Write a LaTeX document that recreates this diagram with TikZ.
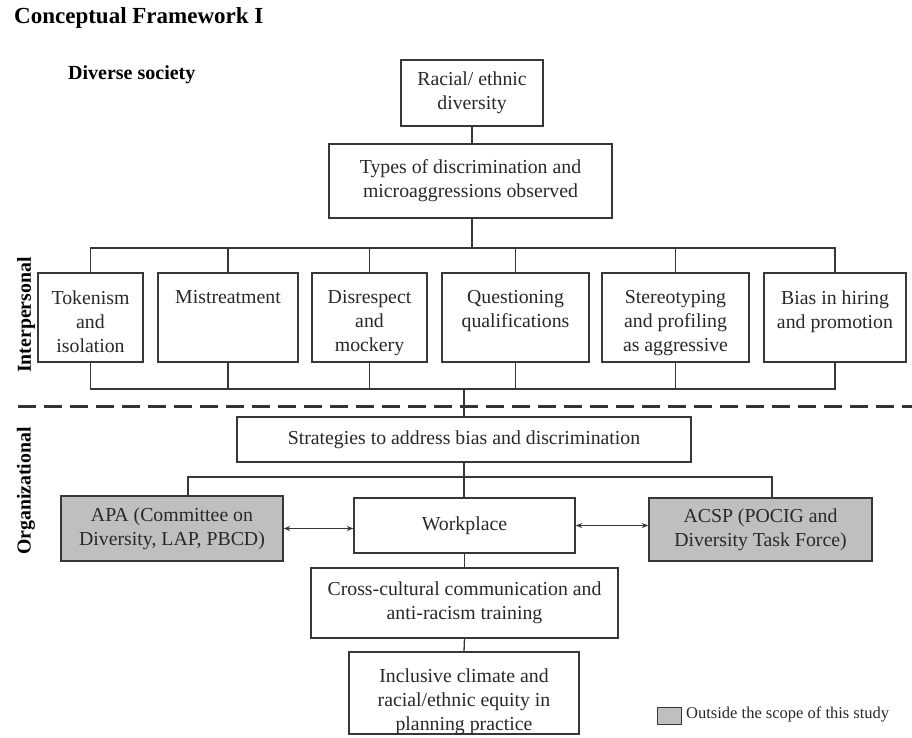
\documentclass[tikz,border=0pt]{standalone}
\usepackage{fontspec}
\setmainfont{Liberation Serif}
\usetikzlibrary{arrows.meta}
\definecolor{outgray}{RGB}{191,191,191}
\definecolor{linegray}{RGB}{55,55,55}
\definecolor{txt}{RGB}{40,40,40}
\tikzset{
  box/.style={draw=linegray, line width=1.3pt, inner sep=0pt, align=center,
    font=\fontsize{19.8}{24}\selectfont, text=txt},
  grbox/.style={box, fill=outgray},
  txtnode/.style={inner sep=0pt, align=center, font=\fontsize{19.8}{24}\selectfont, text=txt},
  conn/.style={draw=linegray, line width=1.3pt},
  biarrow/.style={conn, {Stealth[length=6.5pt,width=5pt]}-{Stealth[length=6.5pt,width=5pt]}},
  lvl/.style={font=\bfseries\fontsize{19.8}{24}\selectfont, inner sep=0pt, rotate=90},
  divider/.style={draw=black!80, line width=3pt, dash pattern=on 18pt off 8pt},
}
\begin{document}
\begin{tikzpicture}[x=1pt,y=-1pt]
\path[use as bounding box] (0,0) rectangle (912,738);

% headings
\node[anchor=base west, font=\bfseries\fontsize{23}{26}\selectfont, inner sep=0pt] (title) at (14,24) {Conceptual Framework I};
\node[anchor=base west, font=\bfseries\fontsize{20}{24}\selectfont, inner sep=0pt] (society) at (68,80) {Diverse society};
\node[lvl] (inter) at (26,315) {Interpersonal};
\node[lvl] (orga) at (26,491) {Organizational};

% top boxes
\node[box, minimum width=142pt, minimum height=66pt] (racial) at (472,93) {Racial/ ethnic\\diversity};
\node[box, minimum width=283pt, minimum height=74pt] (types) at (470.5,181) {Types of discrimination and\\microaggressions observed};

% row of interpersonal boxes
\node[box, minimum width=105pt, minimum height=89pt] (b1) at (90.5,317.5) {};
\node[box, minimum width=140pt, minimum height=89pt] (b2) at (228,317.5) {};
\node[box, minimum width=115pt, minimum height=89pt] (b3) at (369.5,317.5) {};
\node[box, minimum width=147pt, minimum height=89pt] (b4) at (515.5,317.5) {};
\node[box, minimum width=147pt, minimum height=89pt] (b5) at (675.5,317.5) {};
\node[box, minimum width=142pt, minimum height=89pt] (b6) at (835,317.5) {};
\node[txtnode, anchor=north] (t1) at ([yshift=-18pt]b1.north) {Tokenism\\and\\isolation};
\node[txtnode, anchor=north] (t2) at ([yshift=-18pt]b2.north) {Mistreatment};
\node[txtnode, anchor=north] (t3) at ([yshift=-18pt]b3.north) {Disrespect\\and\\mockery};
\node[txtnode, anchor=north] (t4) at ([yshift=-18pt]b4.north) {Questioning\\qualifications};
\node[txtnode, anchor=north] (t5) at ([yshift=-18pt]b5.north) {Stereotyping\\and profiling\\as aggressive};
\node[txtnode, anchor=north] (t6) at ([yshift=-18pt]b6.north) {Bias in hiring\\and promotion};

% organizational boxes
\node[box, minimum width=454pt, minimum height=45pt] (strat) at (464,439.5) {Strategies to address bias and discrimination};
\node[grbox, minimum width=222pt, minimum height=65pt] (apa) at (172,528.5) {APA (Committee on\\Diversity, LAP, PBCD)};
\node[box, minimum width=221pt, minimum height=55pt] (work) at (464.5,525.5) {Workplace};
\node[grbox, minimum width=223pt, minimum height=63pt] (acsp) at (760.5,529.5) {ACSP (POCIG and\\Diversity Task Force)};
\node[box, minimum width=307pt, minimum height=70pt] (cross) at (464.5,603) {Cross-cultural communication and\\anti-racism training};
\node[box, minimum width=230pt, minimum height=82pt] (incl) at (464,693) {};
\node[txtnode, anchor=north] (inclt) at (464,669) {Inclusive climate and\\racial/ethnic equity in\\planning practice};

% legend
\node[draw=linegray, fill=outgray, line width=1pt, minimum width=24pt, minimum height=17pt, inner sep=0pt] (legbox) at (669,715.5) {};
\node[anchor=west, inner sep=0pt, font=\fontsize{16.5}{18}\selectfont, text=txt] (legtxt) at (686,714) {Outside the scope of this study};

% bus coordinates
\coordinate (busTop) at (472,248);
\coordinate (busBot) at (464,389);
\coordinate (busOrg) at (464,477);
\coordinate (divL) at (18,406);
\coordinate (divR) at (912,406);

% connectors
\draw[conn] (racial.south) -- (racial.south |- types.north);
\draw[conn] (racial.south |- types.south) -- (busTop);
\draw[conn] (b1.north) -- (b1.north |- busTop) -- (b6.north |- busTop) -- (b6.north);
\foreach \b in {b2,b3,b4,b5} \draw[conn] (\b.north) -- (\b.north |- busTop);
\draw[conn] (b1.south) -- (b1.south |- busBot) -- (b6.south |- busBot) -- (b6.south);
\foreach \b in {b2,b3,b4,b5} \draw[conn] (\b.south) -- (\b.south |- busBot);
\draw[conn] (busBot) -- (strat.north);
\draw[conn] (strat.south) -- (strat.south |- work.north);
\draw[conn] ([xshift=16pt]apa.north) -- ([xshift=16pt]apa.north |- busOrg) -- ([xshift=11.5pt]acsp.north |- busOrg) -- ([xshift=11.5pt]acsp.north);
\draw[biarrow] (apa.east) -- (apa.east -| work.west);
\draw[biarrow] (work.east) -- (work.east -| acsp.west);
\draw[conn] (work.south) -- (cross.north);
\draw[conn] (cross.south) -- (incl.north);

% divider
\draw[divider] (divL) -- (divR);
\end{tikzpicture}
\end{document}
